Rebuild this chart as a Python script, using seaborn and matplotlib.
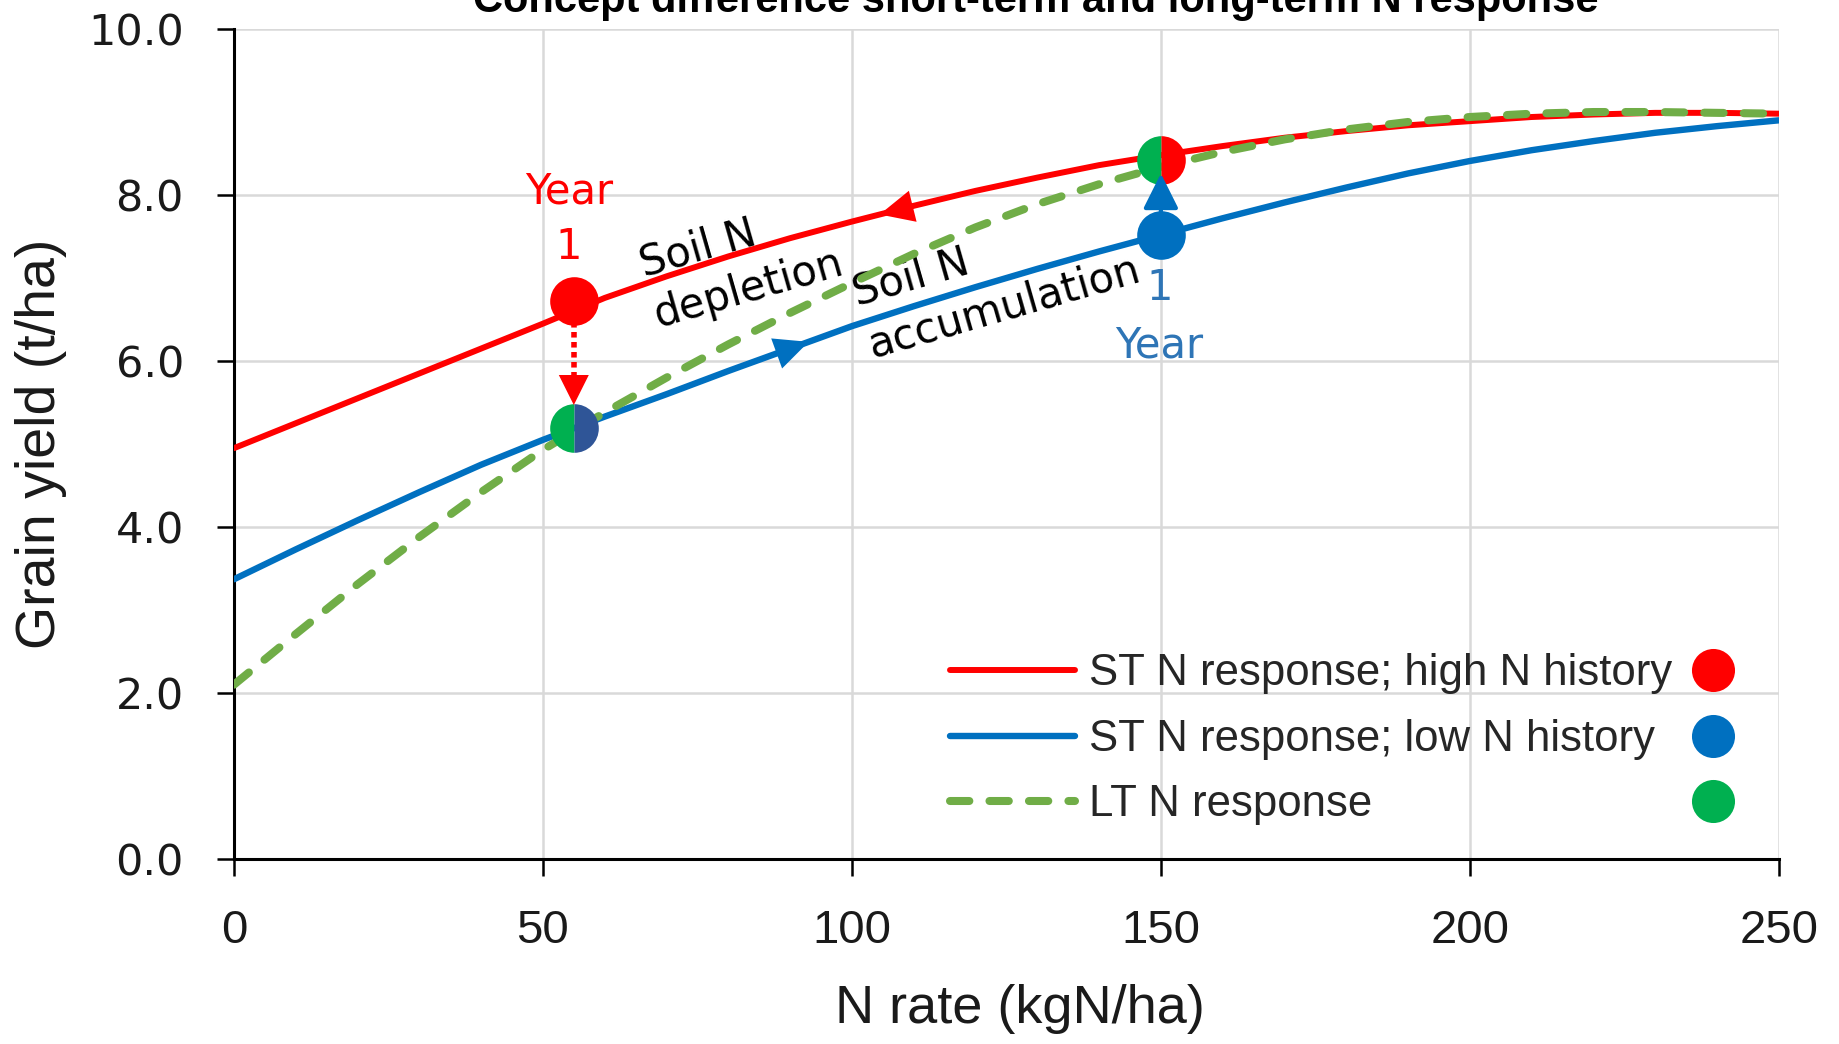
import matplotlib
matplotlib.use("Agg")
import matplotlib.pyplot as plt
import numpy as np
import pandas as pd
import seaborn as sns
from matplotlib.lines import Line2D
from matplotlib.ticker import FormatStrFormatter, MultipleLocator

# values
n_rate = [0, 10, 20, 30, 40, 50, 60, 70, 80, 90, 100, 110, 120, 130,
          140, 150, 160, 170, 180, 190, 200, 210, 220, 230, 240, 250]
st_high = [4.95, 5.25, 5.55, 5.85, 6.15, 6.45, 6.76, 7.02, 7.26, 7.48, 7.68,
           7.87, 8.05, 8.21, 8.36, 8.48, 8.59, 8.69, 8.77, 8.84, 8.89, 8.94,
           8.97, 8.99, 8.99, 8.98]
st_low = [3.37, 3.73, 4.08, 4.42, 4.75, 5.05, 5.33, 5.60, 5.88, 6.15, 6.42,
          6.66, 6.89, 7.11, 7.32, 7.52, 7.72, 7.91, 8.09, 8.26, 8.41, 8.54,
          8.65, 8.75, 8.83, 8.90]
lt_resp = [2.10, 2.71, 3.31, 3.88, 4.42, 4.93, 5.38, 5.80, 6.20, 6.58, 6.94,
           7.29, 7.61, 7.89, 8.13, 8.34, 8.52, 8.67, 8.79, 8.88, 8.94, 8.98,
           9.00, 9.00, 8.99, 8.98]

legend_labels = ["ST N response; high N history",
                 "ST N response; low N history",
                 "LT N response"]

# year-1 points
pt_low_n = [55, 150]          # N rate of the two situations
pt_start = [6.72, 7.52]       # yield in year 0 (high hist at 55, low hist at 150)
pt_end = [5.19, 8.42]         # yield after one year (on LT curve)

TITLE = "Concept difference short-term and long-term N response"
X_LABEL = "N rate (kgN/ha)"
Y_LABEL = "Grain yield (t/ha)"

RED = "#FF0000"
BLUE = "#0070C0"
GREEN_LINE = "#70AD47"
GREEN_PT = "#00B050"
DARK_BLUE = "#2F5597"
TXT_BLUE = "#2E75B6"

SANS = ["Liberation Sans", "DejaVu Sans"]
WIDE = ["DejaVu Sans"]

sns.set_theme(style="whitegrid")
plt.rcParams["font.family"] = SANS

df = pd.DataFrame({"n": n_rate, "high": st_high, "low": st_low, "lt": lt_resp})

fig = plt.figure(figsize=(18.39, 10.44), dpi=100)
ax = fig.add_axes([0.1272, 0.1772, 0.8401, 0.7950])

sns.lineplot(data=df, x="n", y="high", color=RED, lw=4.3, ax=ax, zorder=3)
l_hi = ax.lines[-1]
sns.lineplot(data=df, x="n", y="low", color=BLUE, lw=4.6, ax=ax, zorder=3)
l_lo = ax.lines[-1]
sns.lineplot(data=df, x="n", y="lt", color=GREEN_LINE, lw=5.8, ax=ax, zorder=3.5)
l_lt = ax.lines[-1]
l_lt.set_dashes((2.4, 2.5))
l_lt.set_dash_capstyle("round")

# markers
ax.plot(pt_low_n[0], pt_start[0], "o", ms=35, mfc=RED, mew=0, zorder=5)
ax.plot(pt_low_n[1], pt_start[1], "o", ms=35, mfc=BLUE, mew=0, zorder=5)
ax.plot(pt_low_n[0], pt_end[0], "o", ms=35, mew=0, fillstyle="left",
        mfc=GREEN_PT, mfcalt=DARK_BLUE, zorder=5)
ax.plot(pt_low_n[1], pt_end[1], "o", ms=35, mew=0, fillstyle="left",
        mfc=GREEN_PT, mfcalt=RED, zorder=5)

# dotted red arrow (year 1 after high N history)
ax.plot([pt_low_n[0], pt_low_n[0]], [pt_start[0] - 0.25, pt_end[0] + 0.62],
        color=RED, lw=4.0, ls=(0, (1.0, 0.8)), zorder=4)
ax.annotate("", xy=(pt_low_n[0], pt_end[0] + 0.28), xytext=(pt_low_n[0], pt_end[0] + 0.7),
            arrowprops=dict(arrowstyle="-|>,head_length=21.6,head_width=10.8",
                            mutation_scale=1, color=RED, lw=0, shrinkA=0, shrinkB=0),
            zorder=6)
# blue arrow up (year 1 after low N history)
ax.annotate("", xy=(pt_low_n[1], 8.26), xytext=(pt_low_n[1], pt_start[1] + 0.28),
            arrowprops=dict(arrowstyle="-|>,head_length=21.6,head_width=10.8",
                            mutation_scale=1, color=BLUE, lw=3, shrinkA=0, shrinkB=0),
            zorder=6)

# direction heads along the curves
for tip, tail, ys, col in [(104.5, 116, st_high, RED), (93, 82, st_low, BLUE)]:
    ax.annotate("", xy=(tip, np.interp(tip, n_rate, ys)),
                xytext=(tail, np.interp(tail, n_rate, ys)),
                arrowprops=dict(arrowstyle="-|>,head_length=24.5,head_width=11.5",
                                mutation_scale=1, color=col, lw=0, shrinkA=0, shrinkB=0),
                zorder=4)

# text annotations
ax.text(54.2, 7.71, "Year\n1", color=RED, fontsize=30, family=WIDE,
        ha="center", va="center", multialignment="center", linespacing=1.42)
ax.text(149.8, 6.53, "1\nYear", color=TXT_BLUE, fontsize=30, family=WIDE,
        ha="center", va="center", multialignment="center", linespacing=1.47)
ax.text(82.2, 7.17, "Soil N\ndepletion", color="black", fontsize=30, family=WIDE,
        ha="center", va="center", multialignment="left", rotation=16,
        rotation_mode="anchor", linespacing=1.33)
ax.text(123.4, 6.96, "Soil N\naccumulation", color="black", fontsize=30, family=WIDE,
        ha="center", va="center", multialignment="left", rotation=16,
        rotation_mode="anchor", linespacing=1.38)

# axes styling
ax.set_xlim(0, 250)
ax.set_ylim(0, 10)
ax.xaxis.set_major_locator(MultipleLocator(50))
ax.yaxis.set_major_locator(MultipleLocator(2))
ax.yaxis.set_major_formatter(FormatStrFormatter("%.1f"))
ax.grid(True, color="#D9D9D9", lw=1.8)
ax.set_axisbelow(True)
for side in ["top", "right"]:
    ax.spines[side].set_visible(False)
for side in ["left", "bottom"]:
    ax.spines[side].set_visible(True)
    ax.spines[side].set_color("black")
    ax.spines[side].set_linewidth(2.2)
ax.tick_params(axis="both", direction="out", length=12, width=1.8, color="black",
               left=True, bottom=True)
ax.tick_params(axis="x", pad=24, labelsize=34, labelcolor="#1a1a1a")
ax.tick_params(axis="y", pad=24, labelsize=31, labelcolor="#1a1a1a")
for lab in ax.get_yticklabels():
    lab.set_family(WIDE)

ax.set_xlabel(X_LABEL, fontsize=39, color="#1a1a1a")
ax.xaxis.set_label_coords(0.509, -0.150)
ax.set_ylabel(Y_LABEL, fontsize=40, color="#1a1a1a")
ax.yaxis.set_label_coords(-0.108, 0.5)

fig.text(1036 / 1839, 1 - 12 / 1044, TITLE, ha="center", va="baseline",
         fontsize=30, fontweight="bold", color="black")

# legend: lines with labels, and the coloured points in a separate column
leg_kw = dict(loc="center left", frameon=False, prop={"family": SANS, "size": 31.5},
              handlelength=2.86, labelspacing=0.56, borderpad=0, borderaxespad=0)
leg1 = ax.legend(handles=[l_hi, l_lo, l_lt], labels=legend_labels,
                 bbox_to_anchor=(0.4634, 0.1440), handletextpad=0.32, **leg_kw)
ax.add_artist(leg1)
dots = [Line2D([], [], ls="", marker="o", ms=31, mew=0, mfc=c)
        for c in [RED, BLUE, GREEN_PT]]
ax.legend(handles=dots, labels=[" "] * 3, bbox_to_anchor=(0.9168, 0.1440),
          handletextpad=0, **leg_kw)

fig.savefig("out.png", dpi=100)
